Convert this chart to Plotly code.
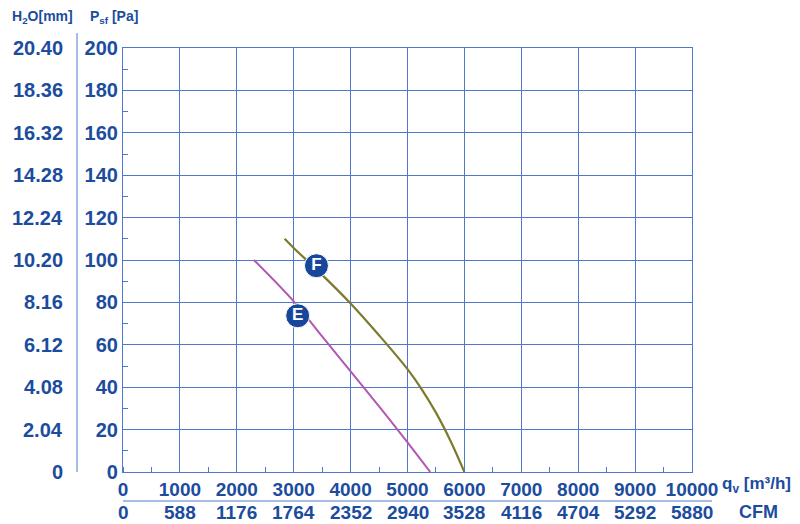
import plotly.graph_objects as go

# ---- data ----
e_flow = [2300, 3000, 3500, 4000, 4500, 5000, 5400]
e_pres = [100, 80.5, 64, 47.5, 31, 14, 0]

f_flow = [2840, 3000, 3500, 4000, 4500, 5000, 5250, 5500, 5750, 6000]
f_pres = [110, 105.7, 93, 79.5, 64.5, 48.5, 39, 28, 15, 0]

badge_labels = ["E", "F"]
badge_flow = [3070, 3400]
badge_pres = [73.7, 97.3]

x_ticks = [0, 1000, 2000, 3000, 4000, 5000, 6000, 7000, 8000, 9000, 10000]
cfm_labels = ["0", "588", "1176", "1764", "2352", "2940", "3528", "4116", "4704", "5292", "5880"]
y_ticks = [0, 20, 40, 60, 80, 100, 120, 140, 160, 180, 200]
h2o_labels = ["0", "2.04", "4.08", "6.12", "8.16", "10.20", "12.24", "14.28", "16.32", "18.36", "20.40"]

TXT = "#1b4c9e"
GRID = "#4f78cc"
FONT = "Liberation Sans, Arial, sans-serif"


def fnt(size, color=TXT, weight="bold"):
    return dict(color=color, size=size, family=FONT, weight=weight)


fig = go.Figure()
fig.add_trace(go.Scatter(x=e_flow, y=e_pres, mode="lines", line=dict(color="#b158b4", width=2, shape="spline"),
                         showlegend=False, hoverinfo="skip"))
fig.add_trace(go.Scatter(x=f_flow, y=f_pres, mode="lines", line=dict(color="#7c7a2c", width=2.2, shape="spline"),
                         showlegend=False, hoverinfo="skip"))
fig.add_trace(go.Scatter(x=badge_flow, y=badge_pres, mode="markers+text",
                         marker=dict(size=24, color="#17479a", line=dict(color="white", width=1)),
                         text=badge_labels, textposition="middle center",
                         textfont=fnt(17, "white"),
                         showlegend=False, hoverinfo="skip"))

annotations = []
for v, lab in zip(y_ticks, h2o_labels):
    annotations.append(dict(xref="paper", yref="y", x=0, y=v, xshift=-58, xanchor="right", yanchor="middle",
                            text=lab, showarrow=False, font=fnt(20)))
for v, lab in zip(x_ticks, cfm_labels):
    annotations.append(dict(xref="x", yref="paper", x=v, y=0, yshift=-40, xanchor="center", yanchor="middle",
                            text=lab, showarrow=False, font=fnt(19)))
annotations += [
    dict(xref="paper", yref="paper", x=1, y=0, xshift=28, yshift=-13, xanchor="left", yanchor="middle",
         text="q<sub>v</sub> [m³/h]", showarrow=False, font=fnt(17)),
    dict(xref="paper", yref="paper", x=1, y=0, xshift=45, yshift=-40, xanchor="left", yanchor="middle",
         text="CFM", showarrow=False, font=fnt(18)),
    dict(xref="paper", yref="paper", x=0, y=1, xshift=-113, yshift=31, xanchor="left", yanchor="middle",
         text="H<sub>2</sub>O[mm]", showarrow=False, font=fnt(14)),
    dict(xref="paper", yref="paper", x=0, y=1, xshift=-35, yshift=31, xanchor="left", yanchor="middle",
         text="P<sub>sf</sub> [Pa]", showarrow=False, font=fnt(14)),
]

shapes = [
    dict(type="line", xref="paper", yref="paper", x0=-46 / 569, x1=-46 / 569, y0=0, y1=1 + 15 / 424,
         line=dict(color=GRID, width=1)),
    dict(type="line", xref="paper", yref="paper", x0=0, x1=1 + 20 / 569, y0=-29 / 424, y1=-29 / 424,
         line=dict(color=GRID, width=1.2)),
]

fig.update_layout(
    width=800, height=524,
    margin=dict(l=123, r=108, t=48, b=52),
    paper_bgcolor="white", plot_bgcolor="white",
    font=dict(family=FONT, color=TXT),
    annotations=annotations, shapes=shapes,
    xaxis=dict(range=[0, 10000], tickvals=x_ticks, ticktext=[str(v) for v in x_ticks],
               showgrid=True, gridcolor=GRID, gridwidth=1, showline=True, linecolor=GRID, linewidth=1.2,
               mirror=True, zeroline=False, ticks="", tickfont=fnt(19),
               minor=dict(dtick=500, tick0=500, ticks="inside", ticklen=5, tickcolor=GRID, showgrid=False)),
    yaxis=dict(range=[0, 200], tickvals=y_ticks, ticktext=[str(v) for v in y_ticks],
               showgrid=True, gridcolor=GRID, gridwidth=1, showline=True, linecolor=GRID, linewidth=1.2,
               mirror=True, zeroline=False, ticks="", tickfont=fnt(20),
               minor=dict(dtick=20, tick0=10, ticks="inside", ticklen=5, tickcolor=GRID, showgrid=False)),
)

fig.write_html("out.html", config={"displayModeBar": False},
               post_script="document.body.style.margin='0';document.body.style.padding='0';"
                           "document.documentElement.style.overflow='hidden';")
